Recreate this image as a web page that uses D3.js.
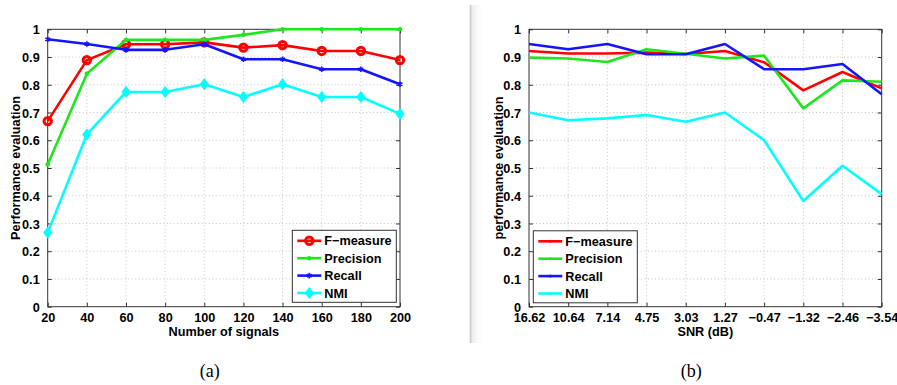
<!DOCTYPE html>
<html lang="en">
<head>
<meta charset="UTF-8">
<script src="https://cdn.jsdelivr.net/npm/d3@7"></script>
<title>Performance evaluation</title>
<style>
  body { margin: 0; background: #fff; }
  text { font-family: "Liberation Sans", Arial, sans-serif; font-weight: bold; fill: #000; }
  .caption { font-family: "Liberation Serif", "Times New Roman", serif; font-weight: normal; }
</style>
</head>
<body>
<svg id="chart" width="897" height="385"></svg>
<script>
// ---- data: panel (a) ----
var signals = [20, 40, 60, 80, 100, 120, 140, 160, 180, 200];
var fmeasureA  = [0.669, 0.889, 0.946, 0.946, 0.953, 0.934, 0.943, 0.922, 0.922, 0.889];
var precisionA = [0.513, 0.840, 0.962, 0.962, 0.962, 0.980, 1.0, 1.0, 1.0, 1.0];
var recallA    = [0.964, 0.947, 0.926, 0.926, 0.946, 0.892, 0.892, 0.856, 0.856, 0.802];
var nmiA       = [0.267, 0.621, 0.774, 0.774, 0.802, 0.756, 0.802, 0.756, 0.756, 0.695];

// ---- data: panel (b) ----
var snr = ["16.62", "10.64", "7.14", "4.75", "3.03", "1.27", "\u22120.47", "\u22121.32", "\u22122.46", "\u22123.54"];
var fmeasureB  = [0.922, 0.913, 0.913, 0.916, 0.911, 0.922, 0.881, 0.780, 0.846, 0.787];
var precisionB = [0.898, 0.895, 0.882, 0.928, 0.912, 0.895, 0.905, 0.715, 0.816, 0.811];
var recallB    = [0.947, 0.928, 0.947, 0.910, 0.910, 0.947, 0.856, 0.856, 0.875, 0.766];
var nmiB       = [0.700, 0.672, 0.679, 0.691, 0.667, 0.700, 0.600, 0.381, 0.508, 0.406];

var yTicks = [0, 0.1, 0.2, 0.3, 0.4, 0.5, 0.6, 0.7, 0.8, 0.9, 1];
var names = ["F\u2212measure", "Precision", "Recall", "NMI"];
var colors = ["#ff0000", "#1ee61e", "#1414ff", "#00ffff"];

var svg = d3.select("#chart");
var top_ = 29.3, bottom = 306.7;
var fs = "12.7px";

// divider between panels
var defs = svg.append("defs");
var grad = defs.append("linearGradient").attr("id", "fade");
grad.append("stop").attr("offset", "0%").attr("stop-color", "#e8e8e8");
grad.append("stop").attr("offset", "100%").attr("stop-color", "#fff").attr("stop-opacity", 0);
svg.append("rect").attr("x", 471).attr("y", 5).attr("width", 14).attr("height", 338).attr("fill", "url(#fade)");
svg.append("line").attr("x1", 470.5).attr("x2", 470.5).attr("y1", 5).attr("y2", 343)
  .attr("stroke", "#c8c8c8").attr("stroke-width", 1.5);

function panel(opt) {
  var g = svg.append("g");
  var y = d3.scaleLinear().domain([0, 1]).range([bottom, top_]);
  var x = opt.x;
  var x0 = opt.left, x1 = opt.right;
  var xs = opt.cats.map(c => x(c));

  // grid
  g.append("g").selectAll("line").data(yTicks.slice(1, -1)).enter().append("line")
    .attr("x1", x0).attr("x2", x1).attr("y1", d => y(d)).attr("y2", d => y(d))
    .attr("stroke", "#c4c4c4").attr("stroke-dasharray", "1,2.5");
  g.append("g").selectAll("line").data(xs.slice(1, -1)).enter().append("line")
    .attr("x1", d => d).attr("x2", d => d).attr("y1", top_).attr("y2", bottom)
    .attr("stroke", "#c4c4c4").attr("stroke-dasharray", "1,2.5");

  // axes
  var yAxis = d3.axisLeft(y).tickValues(yTicks).tickSizeInner(-4).tickSizeOuter(0)
    .tickPadding(8).tickFormat(d => d === 0 || d === 1 ? d : d3.format(".1f")(d));
  var ya = g.append("g").attr("transform", "translate(" + x0 + ",0)").call(yAxis);
  var yr = g.append("g").attr("transform", "translate(" + x1 + ",0)")
    .call(d3.axisRight(y).tickValues(yTicks).tickSizeInner(-4).tickSizeOuter(0).tickFormat(""));
  var xa = g.append("g").attr("transform", "translate(0," + bottom + ")").call(opt.xAxis(x));
  var xt = g.append("g").attr("transform", "translate(0," + top_ + ")").call(opt.xAxisTop(x));
  [ya, yr, xa, xt].forEach(a => {
    a.select(".domain").remove();
    a.selectAll("line").attr("stroke", "#333");
    a.selectAll("text").style("font-size", fs).style("font-family", "'Liberation Sans', Arial, sans-serif").style("font-weight", "bold");
  });
  ya.selectAll("text").attr("dy", "0.36em");
  xa.selectAll("text").attr("dy", "0.72em").attr("y", 6);
  g.append("rect").attr("x", x0).attr("y", top_).attr("width", x1 - x0).attr("height", bottom - top_)
    .attr("fill", "none").attr("stroke", "#333").attr("stroke-width", 1);

  // series
  var line = d3.line().x((d, i) => xs[i]).y(d => y(d));
  opt.series.forEach((s, k) => {
    g.append("path").datum(s).attr("d", line).attr("fill", "none")
      .attr("stroke", colors[k]).attr("stroke-width", 2.6).attr("stroke-linejoin", "round");
    if (opt.markers) {
      var mg = g.append("g");
      s.forEach((v, i) => marker(mg, k, xs[i], y(v)));
    }
  });

  // labels
  svg.append("text").attr("x", (x0 + x1) / 2).attr("y", 336).attr("text-anchor", "middle")
    .style("font-size", fs).text(opt.xTitle);
  svg.append("text").attr("transform", "translate(" + opt.yTitleX + "," + ((top_ + bottom) / 2) + ") rotate(-90)")
    .attr("text-anchor", "middle").style("font-size", fs).text(opt.yTitle);
  svg.append("text").attr("class", "caption").attr("x", (x0 + x1) / 2 - 14).attr("y", 377)
    .attr("text-anchor", "middle").style("font-size", "18px").text(opt.caption);

  // legend
  var lg = svg.append("g").attr("transform", "translate(" + opt.legend[0] + "," + opt.legend[1] + ")");
  lg.append("rect").attr("width", 104).attr("height", 72).attr("fill", "#fff")
    .attr("stroke", "#333").attr("stroke-width", 1);
  names.forEach((n, k) => {
    var ly = 10.5 + k * 17.4;
    lg.append("line").attr("x1", 5).attr("x2", 29).attr("y1", ly).attr("y2", ly)
      .attr("stroke", colors[k]).attr("stroke-width", 2.6);
    if (opt.markers) marker(lg, k, 17, ly);
    else lg.append("circle").attr("cx", 17).attr("cy", ly).attr("r", 1.5).attr("fill", colors[k]);
    lg.append("text").attr("x", 32).attr("y", ly).attr("dy", "0.36em").style("font-size", fs).text(n);
  });
}

function marker(g, k, cx, cy) {
  var c = colors[k];
  if (k === 0) {
    g.append("circle").attr("cx", cx).attr("cy", cy).attr("r", 3.7)
      .attr("fill", "none").attr("stroke", c).attr("stroke-width", 3);
  } else if (k === 1) {
    g.append("circle").attr("cx", cx).attr("cy", cy).attr("r", 2.3).attr("fill", c);
  } else if (k === 2) {
    g.append("path").attr("transform", "translate(" + cx + "," + cy + ")")
      .attr("d", d3.symbol(d3.symbolAsterisk, 22)()).attr("stroke", c).attr("stroke-width", 1.6).attr("fill", "none");
  } else {
    g.append("path").attr("transform", "translate(" + cx + "," + cy + ")")
      .attr("d", "M0,-5.5L4,0L0,5.5L-4,0Z").attr("fill", c).attr("stroke", c).attr("stroke-width", 1);
  }
}

// panel (a)
var xA = d3.scaleLinear().domain([20, 200]).range([47.7, 400]);
panel({
  x: xA, left: 47.7, right: 400, cats: signals,
  xAxis: x => d3.axisBottom(x).tickValues(signals).tickSizeInner(-4).tickSizeOuter(0).tickPadding(6),
  xAxisTop: x => d3.axisTop(x).tickValues(signals).tickSizeInner(-4).tickSizeOuter(0).tickFormat(""),
  series: [fmeasureA, precisionA, recallA, nmiA], markers: true,
  xTitle: "Number of signals", yTitle: "Performance evaluation", yTitleX: 20,
  caption: "(a)", legend: [292.3, 230.3]
});

// panel (b)
var xB = d3.scalePoint().domain(snr).range([529, 881.7]);
panel({
  x: xB, left: 529, right: 881.7, cats: snr,
  xAxis: x => d3.axisBottom(x).tickSizeInner(-4).tickSizeOuter(0).tickPadding(6),
  xAxisTop: x => d3.axisTop(x).tickSizeInner(-4).tickSizeOuter(0).tickFormat(""),
  series: [fmeasureB, precisionB, recallB, nmiB], markers: false,
  xTitle: "SNR (dB)", yTitle: "performance evaluation", yTitleX: 503,
  caption: "(b)", legend: [533.3, 230.8]
});
</script>
</body>
</html>
